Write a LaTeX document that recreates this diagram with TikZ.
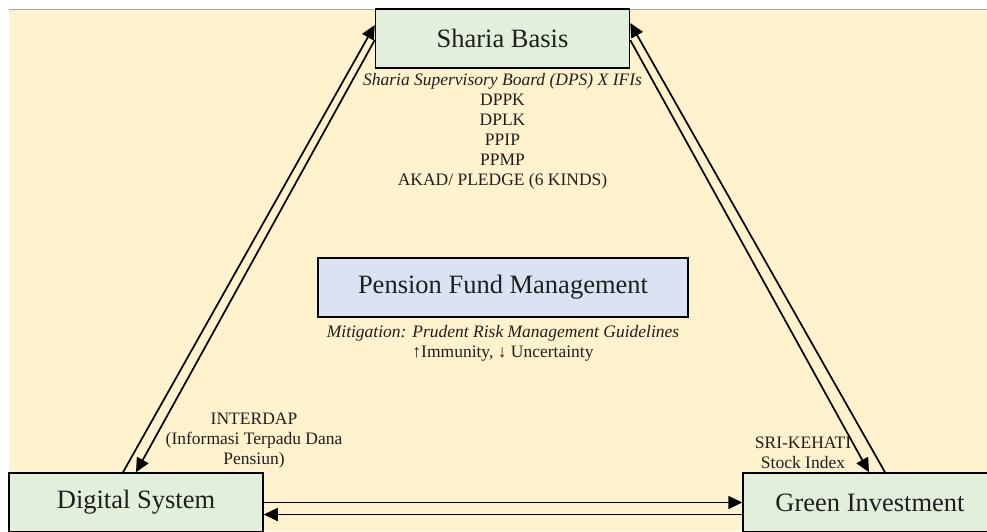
\documentclass[tikz,border=0pt]{standalone}
\usepackage{fontspec}
\setmainfont{Liberation Serif}
\usetikzlibrary{arrows.meta, positioning}

\definecolor{creambg}{RGB}{255,242,204}
\definecolor{boxgreen}{RGB}{226,239,218}
\definecolor{boxblue}{RGB}{218,227,243}

\begin{document}
\begin{tikzpicture}[x=1pt, y=-1pt,
        pillar/.style={draw, line width=1.5pt, fill=boxgreen, minimum width=254pt, minimum height=59pt, inner sep=0pt, font=\fontsize{26.5}{30}\selectfont, text=black!88},
        core/.style={pillar, fill=boxblue, minimum width=370pt},
        note/.style={align=center, inner sep=0pt, font=\fontsize{17.5}{20}\selectfont, text=black!88},
        arrow/.style={-{Triangle[length=14pt, width=13pt]}, line width=1.7pt}
    ]
        % Canvas
        \useasboundingbox (0,0) rectangle (987,531);
        \fill[creambg] (9,9) rectangle (987,531);
        \draw[gray!70, line width=1pt] (9,9) -- (987,9);

        \begin{scope}
        \clip (0,0) rectangle (987,531);
        % Pillars
        \node[pillar] (sharia) at (502.5,38.5) {Sharia Basis};
        \node[pillar] (digital) at (136,502.5) {Digital System};
        \node[pillar] (green) at (870,502.5) {Green Investment};
        \node[core] (pension) at (503,287.5) {Pension Fund Management};

        % Labels
        \node[note, below=4pt of sharia] (shariaroles) {\textit{Sharia Supervisory Board (DPS) X IFIs}\\DPPK\\DPLK\\PPIP\\PPMP\\AKAD/ PLEDGE (6 KINDS)};
        \node[note, below=7pt of pension] (mitigation) {\textit{Mitigation: Prudent Risk Management Guidelines}\\↑Immunity, ↓ Uncertainty};
        \node[note] (interdap) at (254,441) {INTERDAP\\(Informasi Terpadu Dana\\Pensiun)};
        \node[note] (kehati) at (803,453) {SRI-KEHATI\\Stock Index};

        % Arrows
        \draw[arrow] ([xshift=-13pt]digital.north) -- ([yshift=13.5pt]sharia.west);
        \draw[arrow] ([yshift=-1.5pt]sharia.west) -- (digital.north);
        \draw[arrow] ([xshift=15pt]green.north) -- ([yshift=15.5pt]sharia.east);
        \draw[arrow] ([yshift=-1.5pt]sharia.east) -- ([xshift=-1pt]green.north);
        \draw[arrow] (digital.east) -- (green.west);
        \draw[arrow] ([yshift=-12pt]green.west) -- ([yshift=-12pt]digital.east);
        \end{scope}
    \end{tikzpicture}
\end{document}
